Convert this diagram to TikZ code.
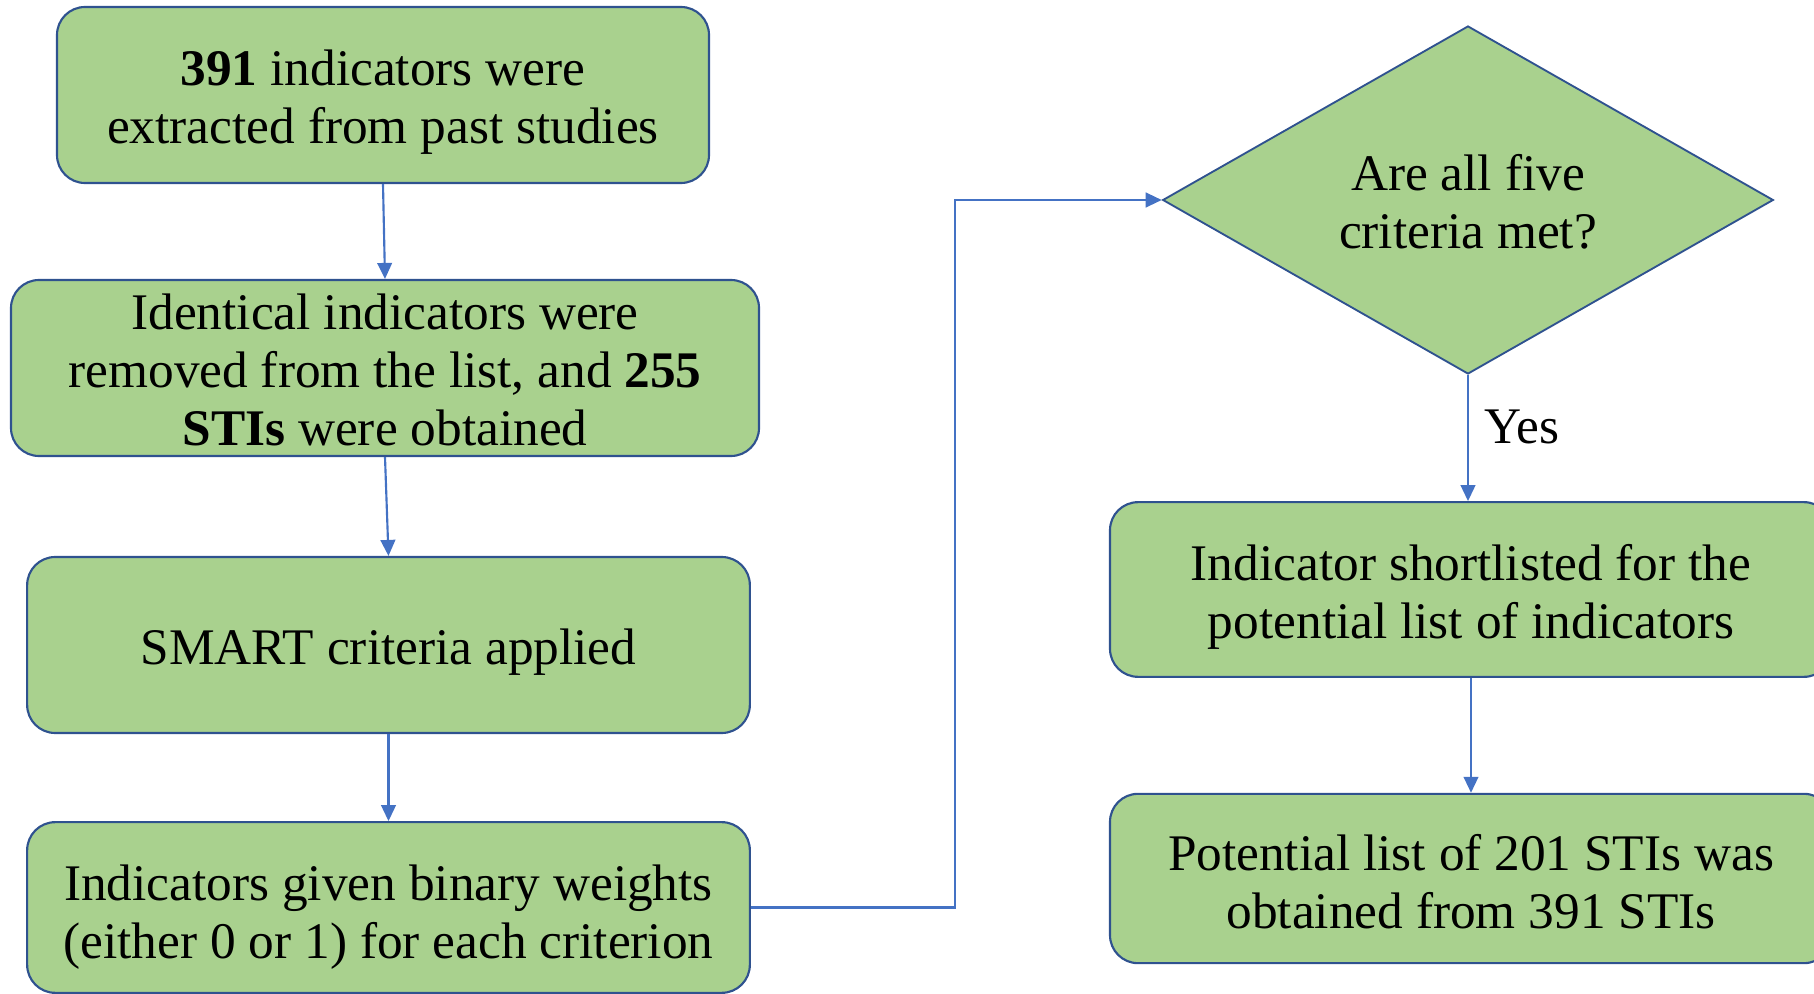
\documentclass[tikz,border=0pt]{standalone}
\usepackage{fontspec}
\setmainfont{Liberation Serif}
\usetikzlibrary{shapes.geometric,arrows.meta}
\definecolor{boxfill}{HTML}{A9D18E}
\definecolor{boxline}{HTML}{2F528F}
\definecolor{arrowc}{HTML}{4472C4}
\begin{document}
\begin{tikzpicture}[x=0.75pt,y=-0.75pt,
  every node/.style={font=\fontsize{38.5}{43.5}\selectfont},
  stepbox/.style={draw=boxline,fill=boxfill,line width=1.6pt,rounded corners=21pt,inner sep=0pt},
  txt/.style={align=center,inner sep=0pt},
  decision/.style={diamond,draw=boxline,fill=boxfill,line width=1.4pt,inner sep=0pt},
  arr/.style={draw=arrowc,line width=1.6pt,-{Triangle[width=11pt,length=12pt]}}]
\useasboundingbox (0,0) rectangle (1814,994);
\node[stepbox,minimum width=489pt,minimum height=132pt] (b1) at (383,95) {};
\node[txt] (t1) at ([yshift=-5pt]b1.center)
  {\textbf{391} indicators were\\extracted from past studies};
\node[stepbox,minimum width=561pt,minimum height=132pt] (b2) at (385,368) {};
\node[txt] (t2) at ([yshift=-1.7pt]b2.center)
  {Identical indicators were\\removed from the list, and \textbf{255}\\\textbf{STIs} were obtained};
\node[stepbox,minimum width=542pt,minimum height=132pt] (b3) at (388.5,645) {};
\node[txt] (t3) at ([yshift=-5.5pt]b3.center) {SMART criteria applied};
\node[stepbox,minimum width=542pt,minimum height=128pt] (b4) at (388.5,907.5) {};
\node[txt] (t4) at ([yshift=-7pt]b4.center)
  {Indicators given binary weights\\(either 0 or 1) for each criterion};
\node[decision,minimum width=458pt,minimum height=261pt] (dia) at (1468,200) {};
\node[txt] (td) at ([yshift=-1.7pt]dia.center) {Are all five\\criteria met?};
\node[stepbox,minimum width=541.5pt,minimum height=131pt] (b5) at (1471,589.5) {};
\node[txt] (t5) at ([yshift=-5.5pt]b5.center)
  {Indicator shortlisted for the\\potential list of indicators};
\node[stepbox,minimum width=541.5pt,minimum height=127pt] (b6) at (1471,878.5) {};
\node[txt] (t6) at ([yshift=-2.5pt]b6.center)
  {Potential list of 201 STIs was\\obtained from 391 STIs};
\node (yes) at (1522,427) {Yes};
\coordinate (bend) at (955,500);
\draw[arr] (b1.south) -- (b2.north);
\draw[arr] (b2.south) -- (b3.north);
\draw[arr] (b3.south) -- (b4.north);
\draw[arr] (b4.east) -- (b4.east -| bend) -- (bend |- dia.west) -- (dia.west);
\draw[arr] (dia.south) -- (dia.south |- b5.north);
\draw[arr] (b5.south) -- (b6.north);
\end{tikzpicture}
\end{document}
